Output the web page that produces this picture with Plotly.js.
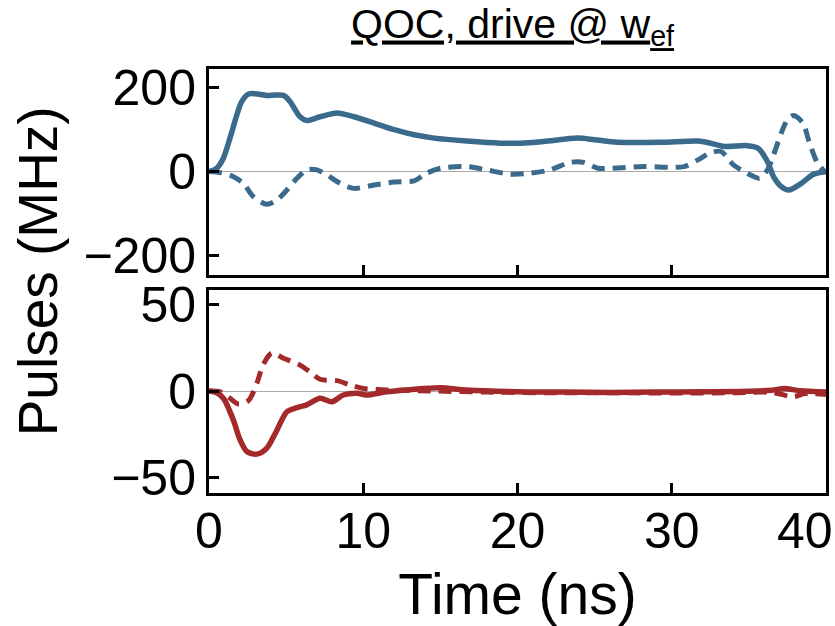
<!DOCTYPE html>
<html>
<head>
<meta charset="utf-8">
<script src="https://cdn.plot.ly/plotly-3.0.1.min.js"></script>
<style>html,body{margin:0;padding:0;background:#fff;}</style>
</head>
<body>
<div id="chart" style="width:835px;height:626px;"></div>
<script>
// Top panel (MHz): drive pulses at w_ef, blue
const tTopSolid = [0, 0.5, 0.93, 1.36, 1.8, 2.12, 2.55, 3.0, 3.74, 4.3, 4.83, 5.26, 5.9, 6.34, 7.2, 8.3, 9.4, 10.7, 12, 13.3, 14.6, 16.7, 18.9, 20.2, 21.7, 23.9, 25, 26.5, 29.3, 31.7, 32.5, 33.4, 34.9, 35.6, 36.2, 36.6, 37.1, 37.6, 38.4, 39.2, 40];
const vTopSolid = [0, 8, 32, 80, 135, 167, 185, 186, 182, 183, 182, 167, 131, 122, 131, 140, 131, 116, 100, 88, 80, 73, 68, 68, 72, 80, 76, 70, 70, 73, 68, 60, 62, 56, 24, -12, -36, -44, -28, -6, 0];
const tTopDash = [0, 0.8, 1.58, 2.23, 2.88, 3.75, 4.4, 5.05, 5.7, 6.34, 7.0, 7.64, 8.5, 9.4, 10.7, 12, 13.3, 14.1, 15, 16.7, 18, 19.5, 20.8, 22.1, 23.4, 24.3, 25.2, 26, 28.2, 30.8, 31.7, 32.5, 33.2, 34, 34.9, 35.7, 36.2, 36.6, 37.1, 37.5, 37.9, 38.5, 38.9, 39.4, 39.9];
const vTopDash = [0, -3, -12, -28, -60, -78, -68, -44, -16, 4, 4, -8, -28, -40, -32, -25, -22, -4, 8, 12, 4, -6, -4, 4, 22, 22, 8, 8, 12, 12, 28, 45, 48, 16, -4, -16, 4, 40, 92, 124, 134, 116, 72, 24, 0];

// Bottom panel (MHz): red
const tBotSolid = [0, 0.5, 0.93, 1.58, 2.0, 2.45, 3.1, 3.75, 4.3, 5.05, 5.7, 6.34, 7.2, 7.97, 8.7, 9.6, 10.2, 11.5, 13, 15, 16.7, 20, 23, 26, 29, 32, 35, 36.5, 37.3, 38.3, 40];
const vBotSolid = [0, -1, -4.2, -16.8, -28, -35, -36.5, -33, -24.5, -12, -9.6, -8, -4.2, -6.2, -2.3, -1.3, -2.3, -0.4, 0.8, 1.9, 0.6, -0.4, -0.6, -0.8, -0.6, -0.4, -0.2, 0.5, 1.5, 0.2, -0.5];
const tBotDash = [0, 0.7, 1.36, 1.9, 2.55, 3.1, 3.5, 4.07, 4.83, 5.9, 6.56, 7.2, 8.3, 9.16, 10, 11.5, 14.6, 18, 22, 26, 30, 34, 36.5, 37.9, 38.6, 40];
const vBotDash = [0, -0.4, -4.2, -7.5, -5.6, 4.4, 15, 22, 19, 15, 11, 6.8, 6, 3.5, 1.5, 0.6, 0, -0.6, -1, -1, -1.2, -1, -0.8, -3.3, -1.5, -2];

const xTicks = [0, 10, 20, 30, 40];
const xTickText = ['0', '10', '20', '30', ''];
const xLastTick = 40;
const xLastLabel = '40';
const yTopTicks = [-200, 0, 200];
const yBotTicks = [-50, 0, 50];

const blue = '#3a6b8c';
const red = '#a3292b';
const FONT = 'Liberation Sans, Arial, Helvetica, sans-serif';

const traces = [
  {x: tTopSolid, y: vTopSolid, xaxis: 'x', yaxis: 'y', mode: 'lines',
   line: {color: blue, width: 5.5, shape: 'spline', smoothing: 0.8}},
  {x: tTopDash, y: vTopDash, xaxis: 'x', yaxis: 'y', mode: 'lines',
   line: {color: blue, width: 5, dash: '13px,8px', shape: 'spline', smoothing: 0.8}},
  {x: tBotSolid, y: vBotSolid, xaxis: 'x2', yaxis: 'y2', mode: 'lines',
   line: {color: red, width: 5.5, shape: 'spline', smoothing: 0.8}},
  {x: tBotDash, y: vBotDash, xaxis: 'x2', yaxis: 'y2', mode: 'lines',
   line: {color: red, width: 5, dash: '13px,8px', shape: 'spline', smoothing: 0.8}}
];

const frame = {
  showline: true, linecolor: 'black', linewidth: 3, mirror: true,
  ticks: 'inside', ticklen: 10, tickwidth: 3, tickcolor: 'black',
  showgrid: false, tickfont: {family: FONT, size: 50, color: 'black'}
};

const layout = {
  width: 835, height: 626,
  margin: {l: 209, r: 9, t: 69, b: 133},
  paper_bgcolor: 'white', plot_bgcolor: 'white',
  showlegend: false,
  font: {family: FONT, color: 'black'},
  title: {
    text: 'QOC, drive @ w<sub>ef</sub>',
    font: {family: FONT, size: 41, color: 'black', lineposition: 'under'},
    x: 0.492, xref: 'paper', xanchor: 'center',
    y: 0.963, yref: 'container', yanchor: 'middle'
  },
  xaxis: Object.assign({}, frame, {
    anchor: 'y', domain: [0, 1], range: [0, 40], tickvals: xTicks,
    showticklabels: false, zeroline: false
  }),
  yaxis: Object.assign({}, frame, {
    anchor: 'x', domain: [0.514, 1], range: [-247, 245], tickvals: yTopTicks,
    zeroline: true, zerolinecolor: '#aaaaaa', zerolinewidth: 1
  }),
  xaxis2: Object.assign({}, frame, {
    anchor: 'y2', domain: [0, 1], range: [0, 40], tickvals: xTicks, ticktext: xTickText,
    zeroline: false, ticklabelstandoff: -8,
    title: {text: 'Time (ns)', font: {family: FONT, size: 57, color: 'black'}, standoff: 19}
  }),
  yaxis2: Object.assign({}, frame, {
    anchor: 'x2', domain: [0, 0.479], range: [-59, 58.5], tickvals: yBotTicks,
    zeroline: true, zerolinecolor: '#aaaaaa', zerolinewidth: 1
  }),
  annotations: [{
    text: 'Pulses (MHz)', textangle: -90, showarrow: false,
    xref: 'paper', yref: 'paper', x: -0.277, y: 0.523,
    xanchor: 'center', yanchor: 'middle',
    font: {family: FONT, size: 55, color: 'black'}
  }, {
    text: xLastLabel, showarrow: false,
    xref: 'x2', yref: 'paper', x: xLastTick, y: 0,
    xanchor: 'right', yanchor: 'top', xshift: 9, yshift: -8,
    font: {family: FONT, size: 50, color: 'black'}
  }]
};

Plotly.newPlot('chart', traces, layout, {staticPlot: true, displayModeBar: false});
</script>
</body>
</html>
